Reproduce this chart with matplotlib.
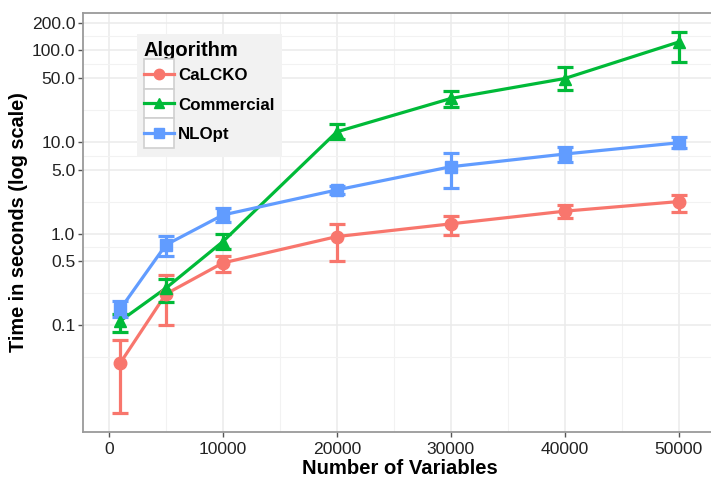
import numpy as np
import matplotlib
matplotlib.use('Agg')
from matplotlib import pyplot as plt
from matplotlib.lines import Line2D
from matplotlib.patches import Rectangle
from matplotlib.legend_handler import HandlerLine2D
from matplotlib.ticker import FixedLocator, NullFormatter

plt.rcParams['font.family'] = ['Liberation Sans', 'DejaVu Sans']

# numero de variables
nvars = np.array([1000, 5000, 10000, 20000, 30000, 40000, 50000])

# tiempos medios y extremos de las barras de error (segundos)
calcko = np.array([0.039, 0.22, 0.48, 0.93, 1.28, 1.76, 2.24])
calcko_lo = np.array([0.0111, 0.102, 0.38, 0.50, 0.97, 1.50, 1.74])
calcko_hi = np.array([0.0687, 0.356, 0.575, 1.28, 1.57, 2.06, 2.64])

comercial = np.array([0.112, 0.255, 0.82, 12.9, 29.8, 49.2, 123.0])
comercial_lo = np.array([0.085, 0.18, 0.68, 10.9, 24.2, 36.7, 74.6])
comercial_hi = np.array([0.133, 0.322, 1.0, 15.7, 36.1, 64.9, 158.0])

nlopt = np.array([0.151, 0.755, 1.60, 3.0, 5.37, 7.39, 9.8])
nlopt_lo = np.array([0.125, 0.573, 1.35, 2.71, 3.13, 6.09, 8.51])
nlopt_hi = np.array([0.186, 0.946, 1.89, 3.31, 7.52, 8.73, 11.2])

nombres = ['CaLCKO', 'Commercial', 'NLOpt']
colores = ['#F8766D', '#00BA38', '#619CFF']
marcas = ['o', '^', 's']
ybreaks = [0.1, 0.5, 1, 5, 10, 50, 100, 200]
xbreaks = [0, 10000, 20000, 30000, 40000, 50000]
ancho_barra = 1500

series = [(calcko, calcko_lo, calcko_hi),
          (comercial, comercial_lo, comercial_hi),
          (nlopt, nlopt_lo, nlopt_hi)]

fig = plt.figure(figsize=(7.11, 4.79), dpi=100)
ax = fig.add_axes([83/711, 47/479, 633/711, 419/479])

lw = 2.3
for (m, lo, hi), c in zip(series, colores):
    ax.plot(nvars, m, color=c, lw=lw, zorder=3, solid_capstyle='butt')
for (m, lo, hi), c in zip(series, colores):
    ax.errorbar(nvars, m, yerr=[m - lo, hi - m], fmt='none', ecolor=c,
                elinewidth=lw, capsize=6.1, capthick=lw, zorder=4)
for (m, lo, hi), c, mk in zip(series, colores, marcas):
    ax.plot(nvars, m, linestyle='none', marker=mk, ms=9, color=c,
            mec=c, zorder=5)

# limites como ggplot: expansion del 5% (en escala log para y)
ax.set_yscale('log')
lmin = np.log10(min(calcko_lo.min(), comercial_lo.min(), nlopt_lo.min()))
lmax = np.log10(max(calcko_hi.max(), comercial_hi.max(), nlopt_hi.max()))
d = 0.05 * (lmax - lmin)
ax.set_ylim(10**(lmin - d), 10**(lmax + d))
x0 = nvars.min() - ancho_barra / 2
x1 = nvars.max() + ancho_barra / 2
dx = 0.05 * (x1 - x0)
ax.set_xlim(x0 - dx, x1 + dx)

ax.yaxis.set_major_locator(FixedLocator(ybreaks))
ax.set_yticklabels(['%.1f' % v for v in ybreaks])
lb = list(np.log10(ybreaks))
bd = lb[1] - lb[0]
lb = [lb[0] - bd] + lb + [lb[-1] + bd]
menores = []
for a, b in zip(lb[:-1], lb[1:]):
    menores.append((a + b) / 2)
ax.yaxis.set_minor_locator(FixedLocator([10**v for v in menores]))
ax.yaxis.set_minor_formatter(NullFormatter())

ax.xaxis.set_major_locator(FixedLocator(xbreaks))
ax.xaxis.set_minor_locator(FixedLocator([5000, 15000, 25000, 35000, 45000]))

ax.grid(which='major', color='#EBEBEB', lw=1.1, zorder=0)
ax.grid(which='minor', color='#F2F2F2', lw=0.8, zorder=0)
ax.set_axisbelow(True)
for s in ax.spines.values():
    s.set_color('#9a9a9a')
    s.set_linewidth(1.3)
ax.tick_params(which='major', length=3.5, width=1, color='#555555',
               labelsize=12.6, labelcolor='#222222', pad=2)
ax.tick_params(axis='x', which='major', pad=4)
ax.tick_params(which='minor', length=0)

ax.set_xlabel('Number of Variables', fontsize=14.6, fontweight='bold', labelpad=1)
ax.set_ylabel('Time in seconds (log scale)', fontsize=14.3, fontweight='bold', labelpad=3)


class Llave(HandlerLine2D):
    # caja blanca detras de cada simbolo, centrada en la linea del texto
    def create_artists(self, legend, orig_handle, xdescent, ydescent,
                       width, height, fontsize, trans):
        arts = super().create_artists(legend, orig_handle, xdescent, ydescent,
                                      width, height, fontsize, trans)
        yc = 0.36 * fontsize
        for a in arts:
            a.set_ydata(np.full_like(np.asarray(a.get_xdata(), float), yc))
        caja = Rectangle((-xdescent, yc - height / 2), width, height,
                         facecolor='white', edgecolor='#d0d0d0', lw=1.2,
                         transform=trans)
        return [caja] + arts


manijas = [Line2D([], [], color=c, lw=lw, marker=mk, ms=7.5) for c, mk in zip(colores, marcas)]
leg = ax.legend(manijas, nombres, title='Algorithm', loc='upper left',
                bbox_to_anchor=(0.085, 0.950), borderaxespad=0,
                handler_map={Line2D: Llave()}, handlelength=1.77,
                handleheight=2.30, labelspacing=0, handletextpad=0.25,
                borderpad=0.42, fancybox=False, frameon=True,
                prop={'size': 12.2, 'weight': 'bold'},
                title_fontproperties={'size': 14.5, 'weight': 'bold'},
                alignment='left')
leg.get_frame().set_facecolor('#F2F2F2')
leg.get_frame().set_edgecolor('none')
leg.get_frame().set_alpha(1)
leg.set_zorder(10)

fig.savefig('out.png', dpi=100)
